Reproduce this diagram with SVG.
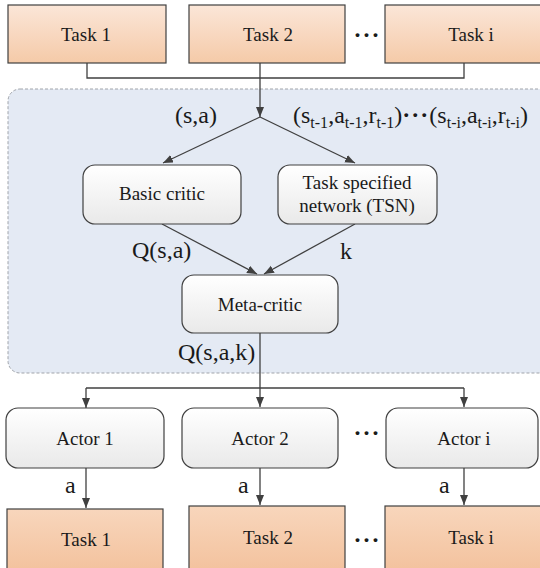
<svg xmlns="http://www.w3.org/2000/svg" width="540" height="568" viewBox="0 0 540 568">
<defs>
<linearGradient id="gTask" x1="0" y1="0" x2="0" y2="1">
<stop offset="0" stop-color="#fbe6d8"/>
<stop offset="1" stop-color="#f5caa8"/>
</linearGradient>
<linearGradient id="gTask2" x1="0" y1="0" x2="0" y2="1">
<stop offset="0" stop-color="#f8d6bc"/>
<stop offset="1" stop-color="#f3c19c"/>
</linearGradient>
<linearGradient id="gNode" x1="0" y1="0" x2="0" y2="1">
<stop offset="0" stop-color="#ffffff"/>
<stop offset="1" stop-color="#e9e9e9"/>
</linearGradient>
<marker id="arr" markerUnits="userSpaceOnUse" markerWidth="12" markerHeight="10" refX="10" refY="4" orient="auto">
<path d="M0,0 L10,4 L0,8 Z" fill="#404040"/>
</marker>
<style>
.task{fill:url(#gTask);stroke:#404040;stroke-width:1.2}
.task2{fill:url(#gTask2);stroke:#404040;stroke-width:1.2}
.node{fill:url(#gNode);stroke:#404040;stroke-width:1.2}
text{font-family:'Liberation Serif','DejaVu Serif',serif}
.t{font-size:19px;fill:#1a1a1a;text-anchor:middle}
.lbl{font-size:24px;fill:#1a1a1a}
.dots{font-size:24px;font-weight:bold;fill:#1a1a1a;text-anchor:middle;letter-spacing:1px}
.ln{fill:none;stroke:#404040;stroke-width:1.3}
.ar{fill:none;stroke:#404040;stroke-width:1.3;marker-end:url(#arr)}
</style>
</defs>

<g id="container">
<rect x="8" y="89" width="545" height="284" rx="12" fill="#e4eaf4" stroke="#a0a4aa" stroke-width="1" stroke-dasharray="3,2"/>
</g>

<g id="task1-top"><rect class="task" x="8" y="5" width="158" height="58"/><text class="t" x="86" y="41">Task 1</text></g>
<g id="task2-top"><rect class="task" x="189" y="5" width="156" height="58"/><text class="t" x="268" y="41">Task 2</text></g>
<g id="taski-top"><rect class="task" x="385" y="5" width="160" height="58"/><text class="t" x="471" y="41">Task i</text></g>
<text class="dots" x="367" y="43">···</text>

<g id="connectors">
<polyline class="ln" points="87,63 87,78 464,78 464,63"/>
<line class="ar" x1="260" y1="63" x2="260" y2="117"/>
<line class="ar" x1="260" y1="117" x2="163" y2="163"/>
<line class="ar" x1="260" y1="117" x2="355" y2="163"/>
<line class="ar" x1="162" y1="224" x2="257" y2="274"/>
<line class="ar" x1="355" y1="224" x2="264" y2="274"/>
<polyline class="ln" points="260,333 260,388"/>
<polyline class="ln" points="86,388 464,388"/>
<line class="ar" x1="86" y1="388" x2="86" y2="408"/>
<line class="ar" x1="260" y1="388" x2="260" y2="407"/>
<line class="ar" x1="464" y1="388" x2="464" y2="407"/>
<line class="ar" x1="86" y1="468" x2="86" y2="508"/>
<line class="ar" x1="260" y1="468" x2="260" y2="505"/>
<line class="ar" x1="464" y1="468" x2="464" y2="505"/>
</g>

<g id="labels">
<text class="lbl" x="175" y="123">(s,a)</text>
<text class="lbl" x="293" y="123">(s<tspan font-size="16" dy="5">t-1</tspan><tspan dy="-5">,a</tspan><tspan font-size="16" dy="5">t-1</tspan><tspan dy="-5">,r</tspan><tspan font-size="16" dy="5">t-1</tspan><tspan dy="-5">)</tspan><tspan font-weight="bold" letter-spacing="1">···</tspan><tspan>(s</tspan><tspan font-size="16" dy="5">t-i</tspan><tspan dy="-5">,a</tspan><tspan font-size="16" dy="5">t-i</tspan><tspan dy="-5">,r</tspan><tspan font-size="16" dy="5">t-i</tspan><tspan dy="-5">)</tspan></text>
<text class="lbl" x="132" y="258">Q(s,a)</text>
<text class="lbl" x="340" y="259">k</text>
<text class="lbl" x="178" y="360">Q(s,a,k)</text>
<text class="lbl" x="65" y="493">a</text>
<text class="lbl" x="238" y="493">a</text>
<text class="lbl" x="439" y="493">a</text>
</g>

<g id="basic-critic"><rect class="node" x="83" y="165" width="158" height="59" rx="12"/><text class="t" x="162" y="200">Basic critic</text></g>
<g id="tsn"><rect class="node" x="278" y="165" width="159" height="59" rx="12"/><text class="t" x="357" y="189">Task specified</text><text class="t" x="357" y="212">network (TSN)</text></g>
<g id="meta-critic"><rect class="node" x="182" y="275" width="156" height="58" rx="12"/><text class="t" x="260" y="311">Meta-critic</text></g>

<g id="actor1"><rect class="node" x="6" y="408" width="158" height="60" rx="12"/><text class="t" x="85" y="445">Actor 1</text></g>
<g id="actor2"><rect class="node" x="182" y="408" width="156" height="60" rx="12"/><text class="t" x="260" y="445">Actor 2</text></g>
<g id="actori"><rect class="node" x="386" y="408" width="152" height="60" rx="12"/><text class="t" x="464" y="445">Actor i</text></g>
<text class="dots" x="367" y="441">···</text>

<g id="task1-bot"><rect class="task2" x="7" y="509" width="156" height="65"/><text class="t" x="86" y="546">Task 1</text></g>
<g id="task2-bot"><rect class="task2" x="189" y="506" width="156" height="68"/><text class="t" x="268" y="544">Task 2</text></g>
<g id="taski-bot"><rect class="task2" x="385" y="506" width="160" height="68"/><text class="t" x="471" y="544">Task i</text></g>
<text class="dots" x="367" y="548">···</text>
</svg>
